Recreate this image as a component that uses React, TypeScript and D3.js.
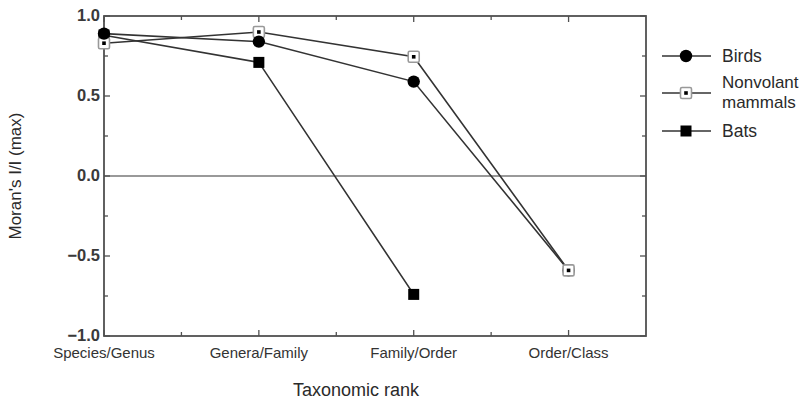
import React from "react";
import * as d3 from "d3";

const categories = ["Species/Genus", "Genera/Family", "Family/Order", "Order/Class"];
const birds = [0.89, 0.84, 0.59, -0.59];
const nonvolant = [0.83, 0.9, 0.745, -0.59];
const bats = [0.88, 0.71, -0.74];
const yTicks = [-1.0, -0.5, 0.0, 0.5, 1.0];
const yMinorTicks = [-0.75, -0.25, 0.25, 0.75];

const W = 812, H = 401;
const left = 104, right = 646, top = 16, bottom = 336;

export default function App() {
  const x = d3.scaleLinear().domain([0, 3.5]).range([left, right]);
  const y = d3.scaleLinear().domain([-1, 1]).range([bottom, top]);
  const line = d3.line<number>().x((_, i) => x(i)).y((d) => y(d));
  const font = "'Liberation Sans', Arial, Helvetica, sans-serif";
  const ink = "#2a2a2a";
  const axisCol = "#505050";
  const xMajor = categories.map((_, i) => i);
  const xMinor = [0.5, 1.5, 2.5];

  const circle = (cx: number, cy: number, k: string) => (
    <circle key={k} cx={cx} cy={cy} r={6.2} fill="#000" />
  );
  const openSq = (cx: number, cy: number, k: string) => (
    <g key={k}>
      <rect x={cx - 5.5} y={cy - 5.5} width={11} height={11} rx={1.5} fill="#fff" stroke="#999" strokeWidth={1.6} />
      <rect x={cx - 1.8} y={cy - 1.8} width={3.6} height={3.6} fill="#000" />
    </g>
  );
  const fillSq = (cx: number, cy: number, k: string) => (
    <rect key={k} x={cx - 5.5} y={cy - 5.5} width={11} height={11} fill="#000" />
  );

  const last = nonvolant.length - 1;

  return (
    <svg width={W} height={H} style={{ position: "absolute", left: 0, top: 0 }}>
      <rect width={W} height={H} fill="#fff" />
      <line x1={left} x2={right} y1={y(0)} y2={y(0)} stroke="#999" strokeWidth={2} />
      <rect x={left} y={top} width={right - left} height={bottom - top} fill="none" stroke={axisCol} strokeWidth={1.8} />
      {xMajor.map((v) => (
        <g key={"xm" + v}>
          <line x1={x(v)} x2={x(v)} y1={bottom} y2={bottom - 6} stroke={axisCol} strokeWidth={1.3} />
          <line x1={x(v)} x2={x(v)} y1={top} y2={top + 6} stroke={axisCol} strokeWidth={1.3} />
        </g>
      ))}
      {xMinor.map((v) => (
        <g key={"xn" + v}>
          <line x1={x(v)} x2={x(v)} y1={bottom} y2={bottom - 4} stroke={axisCol} strokeWidth={1.3} />
          <line x1={x(v)} x2={x(v)} y1={top} y2={top + 4} stroke={axisCol} strokeWidth={1.3} />
        </g>
      ))}
      {yTicks.map((v) => (
        <g key={"ym" + v}>
          <line x1={left} x2={left + 6} y1={y(v)} y2={y(v)} stroke={axisCol} strokeWidth={1.3} />
          <line x1={right} x2={right - 6} y1={y(v)} y2={y(v)} stroke={axisCol} strokeWidth={1.3} />
          <text x={left - 4} y={y(v)} dy="0.3em" textAnchor="end" fontFamily={font} fontSize={16.5} fontWeight="bold" fill="#3a3a3a">
            {v < 0 ? "\u2212" + Math.abs(v).toFixed(1) : v.toFixed(1)}
          </text>
        </g>
      ))}
      {yMinorTicks.map((v) => (
        <g key={"yn" + v}>
          <line x1={left} x2={left + 4} y1={y(v)} y2={y(v)} stroke={axisCol} strokeWidth={1.3} />
          <line x1={right} x2={right - 4} y1={y(v)} y2={y(v)} stroke={axisCol} strokeWidth={1.3} />
        </g>
      ))}
      {categories.map((c, i) => (
        <text key={c} x={x(i)} y={bottom + 22} textAnchor="middle" fontFamily={font} fontSize={15} fill="#333">
          {c}
        </text>
      ))}
      <text x={356} y={396} textAnchor="middle" fontFamily={font} fontSize={18} fill={ink}>
        Taxonomic rank
      </text>
      <text transform={`translate(21,${y(0)}) rotate(-90)`} textAnchor="middle" fontFamily={font} fontSize={17} fill={ink}>
        Moran's I/I (max)
      </text>
      <path d={line(bats) || ""} fill="none" stroke="#333" strokeWidth={1.6} />
      <path d={line(nonvolant) || ""} fill="none" stroke="#333" strokeWidth={1.6} />
      <path d={line(birds) || ""} fill="none" stroke="#333" strokeWidth={1.6} />
      {bats.map((v, i) => fillSq(x(i), y(v), "b" + i))}
      {nonvolant.map((v, i) => (i < last ? openSq(x(i), y(v), "n" + i) : null))}
      {birds.map((v, i) => circle(x(i), y(v), "c" + i))}
      {openSq(x(last), y(nonvolant[last]), "nlast")}
      <g>
        <line x1={662} x2={711} y1={56} y2={56} stroke="#333" strokeWidth={1.6} />
        {circle(686, 56, "lc")}
        <text x={722} y={56} dy="0.36em" fontFamily={font} fontSize={17.5} fill={ink}>Birds</text>
        <line x1={662} x2={711} y1={93} y2={93} stroke="#333" strokeWidth={1.6} />
        {openSq(686, 93, "ln")}
        <text x={722} y={82} dy="0.36em" fontFamily={font} fontSize={17} fill={ink}>Nonvolant</text>
        <text x={722} y={102} dy="0.36em" fontFamily={font} fontSize={17} fill={ink}>mammals</text>
        <line x1={662} x2={711} y1={131} y2={131} stroke="#333" strokeWidth={1.6} />
        {fillSq(686, 131, "lb")}
        <text x={722} y={131} dy="0.36em" fontFamily={font} fontSize={17.5} fill={ink}>Bats</text>
      </g>
    </svg>
  );
}
